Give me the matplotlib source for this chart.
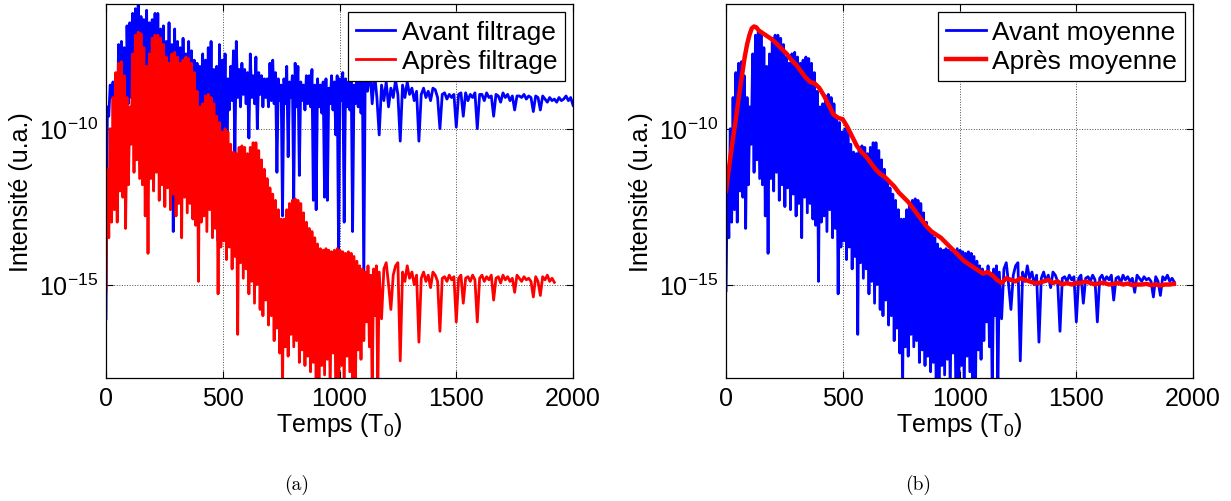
"""
Intensité avant / après filtrage et avant / après moyenne (échelle log).
"""

import numpy as np
import matplotlib
matplotlib.use("Agg")
import matplotlib.pyplot as plt
from matplotlib.ticker import NullLocator

plt.rcParams.update({
    "font.family": "Liberation Sans",
    "mathtext.fontset": "custom",
    "mathtext.rm": "Liberation Sans",
    "mathtext.it": "Liberation Sans:italic",
    "mathtext.bf": "Liberation Sans:bold",
})

# ── Data (log10 of intensity) ─────────────────────────────────────────────────
# filtered signal, dense part: troughs at t = 0, 12, ..., crests at t = 6, 18, ...
t_filt_dense = np.arange(0, 1165, 6)
filt_trough = [
    -15.2, -13.5, -13.0, -12.6, -13.0, -12.0, -12.2, -13.2, -11.8, -10.5,
    -11.4, -11.0, -11.6, -11.8, -12.8, -14.0, -11.6, -12.0, -11.4, -12.3,
    -11.8, -12.5, -11.9, -12.6, -12.1, -12.8, -12.4, -13.5, -12.2, -12.7,
    -12.4, -12.9, -13.1, -14.9, -13.0, -12.8, -13.3, -12.6, -13.5, -13.2,
    -15.3, -13.8, -13.6, -14.2, -13.8, -14.5, -14.1, -16.6, -14.3, -14.8,
    -14.5, -15.3, -14.9, -15.6, -15.0, -15.8, -16.0, -15.5, -16.3, -16.0,
    -16.8, -16.4, -17.2, -18.5, -17.0, -17.3, -16.6, -17.0, -16.8, -17.5,
    -17.1, -17.6, -17.3, -17.8, -17.5, -18.5, -18.5, -17.6, -17.9, -17.4,
    -18.5, -17.2, -18.5, -18.5, -17.6, -18.5, -17.3, -17.8, -18.5, -18.5,
    -17.1, -17.4, -16.8, -16.2, -17.0, -18.5, -16.0, -18.5,
]
filt_crest = [
    -11.3, -10.0, -9.0, -8.2, -7.9, -7.85, -8.3, -9.0, -9.3, -7.6,
    -7.0, -6.9, -6.95, -7.4, -8.0, -7.6, -7.1, -7.0, -7.0, -7.1,
    -7.3, -7.7, -7.9, -7.6, -7.55, -7.7, -7.9, -7.8, -7.7, -7.75,
    -7.9, -8.2, -8.8, -9.3, -9.2, -8.95, -8.9, -9.0, -9.2, -9.6,
    -9.8, -10.1, -10.0, -10.1, -10.5, -10.75, -10.8, -10.6, -10.55, -10.6,
    -10.8, -10.6, -10.45, -10.45, -10.7, -11.0, -11.3, -11.6, -11.9, -12.1,
    -12.3, -12.6, -12.9, -12.9, -12.6, -12.4, -12.3, -12.25, -12.3, -12.4,
    -12.7, -13.0, -13.2, -13.3, -13.5, -13.7, -13.85, -13.9, -13.85, -13.9,
    -13.95, -13.9, -13.85, -13.9, -13.95, -14.0, -13.95, -14.0, -14.1, -14.25,
    -14.4, -14.5, -14.6, -14.4, -14.7, -14.5, -14.4,
]
t_filt_tail = np.arange(1170, 1921, 10)
filt_tail = [
    -14.6, -16.1, -14.5, -14.3, -15.0, -15.8, -14.7, -14.4, -14.3, -17.45,
    -14.6, -14.9, -14.4, -14.8, -14.6, -15.0, -14.7, -16.85, -14.8, -14.6,
    -14.9, -14.7, -15.1, -14.6, -14.7, -14.9, -16.5, -14.8, -14.75, -14.9,
    -14.7, -14.85, -14.75, -16.2, -14.8, -14.7, -15.6, -14.8, -14.75, -14.9,
    -14.7, -14.85, -16.2, -14.8, -14.7, -14.9, -14.75, -14.85, -14.7, -15.5,
    -14.8, -14.75, -14.95, -14.7, -14.85, -14.75, -14.9, -14.8, -15.25, -14.7,
    -14.8, -14.9, -14.75, -14.85, -14.8, -14.9, -15.4, -14.75, -14.9, -15.35,
    -14.75, -14.85, -14.7, -14.9, -14.8, -14.93,
]

# raw signal (before filtering)
t_raw_dense = np.arange(0, 1105, 6)
raw_trough = [
    -16.1, -9.6, -9.0, -9.3, -10.0, -9.5, -10.2, -12.6, -9.2, -9.0,
    -10.0, -10.8, -9.2, -9.4, -9.6, -9.8, -9.3, -10.2, -9.5, -10.0,
    -9.6, -10.3, -9.8, -10.5, -13.3, -11.0, -10.0, -10.4, -9.8, -10.6,
    -10.1, -10.8, -10.2, -11.2, -10.3, -10.9, -10.4, -10.7, -11.5, -10.5,
    -13.6, -10.6, -11.2, -13.6, -9.4, -9.1, -10.9, -9.0, -9.3, -8.9,
    -9.2, -10.3, -9.0, -9.2, -10.0, -8.9, -9.3, -9.0, -9.3, -9.1,
    -9.2, -11.4, -9.1, -12.8, -9.2, -10.9, -9.0, -12.3, -9.3, -11.5,
    -9.1, -9.4, -9.2, -9.3, -12.3, -12.6, -9.3, -9.5, -12.2, -12.3,
    -9.2, -9.4, -10.2, -14.0, -9.1, -13.0, -9.3, -9.4, -13.3, -9.2,
    -9.3, -9.5, -14.9,
]
raw_crest = [
    -9.3, -8.6, -8.5, -8.5, -7.3, -7.2, -7.4, -6.7, -6.6, -6.3,
    -6.15, -6.0, -6.4, -6.5, -6.2, -6.6, -6.5, -6.3, -6.3, -6.8,
    -6.7, -7.2, -6.6, -7.3, -6.8, -7.2, -7.4, -7.1, -7.6, -7.2,
    -7.5, -7.8, -7.9, -8.0, -7.6, -7.8, -7.4, -7.2, -8.1, -8.0,
    -7.3, -7.8, -7.6, -8.4, -8.0, -7.5, -7.2, -8.1, -7.9, -8.1,
    -8.2, -7.6, -8.3, -7.7, -8.2, -8.3, -8.4, -8.4, -7.9, -7.8,
    -8.2, -8.4, -8.6, -8.4, -8.0, -8.5, -8.3, -7.9, -8.0, -8.5,
    -8.6, -8.3, -8.3, -8.1, -8.6, -8.4, -8.6, -8.5, -8.4, -8.7,
    -8.3, -8.5, -8.3, -8.4, -8.2, -8.4, -8.5, -8.3, -8.6, -8.4,
    -8.1, -8.3,
]
t_raw_tail = np.arange(1110, 2001, 10)
raw_tail = [
    -8.3, -8.8, -8.1, -9.2, -8.2, -9.0, -10.2, -8.6, -9.1, -8.5,
    -9.3, -8.7, -9.0, -8.45, -8.9, -10.4, -8.6, -9.0, -8.5, -8.9,
    -8.7, -9.1, -8.8, -10.4, -8.9, -8.7, -9.0, -8.8, -9.1, -8.7,
    -8.75, -9.0, -10.0, -8.9, -8.85, -9.05, -8.9, -9.0, -8.9, -9.95,
    -8.9, -8.85, -9.6, -8.85, -9.1, -8.9, -9.0, -8.85, -10.0, -8.9,
    -8.9, -9.1, -8.85, -9.0, -8.95, -9.6, -8.9, -8.95, -9.15, -8.85,
    -9.0, -8.9, -9.1, -8.95, -9.4, -8.95, -8.95, -9.0, -8.9, -9.05,
    -8.95, -9.0, -9.45, -8.95, -9.0, -9.4, -8.95, -9.05, -9.15, -9.0,
    -9.1, -9.05, -9.15, -9.0, -9.1, -9.05, -8.95, -9.1, -9.0, -9.25,
]

# averaged signal (après moyenne)
t_avg = [0, 10, 20, 30, 40, 50, 60, 70, 80, 90, 100, 110, 120, 130, 140, 150,
         160, 170, 180, 190, 200, 220, 240, 260, 280, 300, 320, 340, 360, 380,
         400, 420, 440, 460, 480, 500, 520, 540, 560, 580, 600, 620, 640, 660,
         680, 700, 720, 740, 760, 780, 800, 820, 840, 860, 880, 900, 920, 940,
         960, 980, 1000, 1020, 1040, 1060, 1080, 1100, 1120, 1140, 1160, 1180,
         1200, 1220, 1240, 1260, 1280, 1300, 1320, 1340, 1360, 1380, 1400, 1420,
         1440, 1460, 1480, 1500, 1520, 1540, 1560, 1580, 1600, 1620, 1640, 1660,
         1680, 1700, 1720, 1740, 1760, 1780, 1800, 1820, 1840, 1860, 1880, 1900,
         1918]
avg = [-12.0, -11.4, -10.85, -10.3, -9.8, -9.25, -8.7, -8.2, -7.7, -7.3,
       -7.0, -6.78, -6.72, -6.75, -6.85, -6.9, -6.95, -7.0, -7.05, -7.1,
       -7.15, -7.3, -7.45, -7.6, -7.8, -7.95, -8.15, -8.35, -8.5, -8.55,
       -8.7, -8.95, -9.25, -9.55, -9.65, -9.7, -9.95, -10.25, -10.55, -10.75,
       -10.9, -11.1, -11.3, -11.45, -11.55, -11.7, -11.85, -12.05, -12.2, -12.35,
       -12.55, -12.75, -12.95, -13.15, -13.3, -13.4, -13.5, -13.65, -13.8, -13.95,
       -14.1, -14.25, -14.35, -14.45, -14.55, -14.65, -14.6, -14.7, -14.85, -14.95,
       -14.8, -14.85, -14.9, -14.8, -14.85, -14.9, -14.95, -14.95, -14.9, -14.85,
       -14.95, -14.9, -15.0, -14.95, -15.0, -14.95, -14.95, -14.9, -14.95, -15.0,
       -14.95, -14.95, -15.0, -14.98, -14.95, -15.0, -14.97, -15.02, -15.0, -15.0,
       -14.98, -15.02, -15.0, -15.03, -15.0, -15.0, -14.98]


def series(t_dense, trough, crest, t_tail, tail):
    y = np.empty(len(t_dense))
    y[0::2] = trough
    y[1::2] = crest
    t = np.concatenate([t_dense, t_tail])
    return t, 10.0 ** np.concatenate([y, tail])


t_f, y_f = series(t_filt_dense, filt_trough, filt_crest, t_filt_tail, filt_tail)
t_r, y_r = series(t_raw_dense, raw_trough, raw_crest, t_raw_tail, raw_tail)
y_avg = 10.0 ** np.array(avg)

# ── Plot ──────────────────────────────────────────────────────────────────────
fig = plt.figure(figsize=(12.31, 5.02), dpi=100)
ax1 = fig.add_axes([0.0861, 0.245, 0.3794, 0.745])
ax2 = fig.add_axes([0.5898, 0.245, 0.3794, 0.745])

ax1.plot(t_r, y_r, color="b", lw=2, label="Avant filtrage")
ax1.plot(t_f, y_f, color="r", lw=2, label="Après filtrage")
ax2.plot(t_f, y_f, color="b", lw=2, label="Avant moyenne")
ax2.plot(t_avg, y_avg, color="r", lw=3.2, label="Après moyenne")

for ax in (ax1, ax2):
    ax.set_yscale("log")
    ax.set_xlim(0, 2000)
    ax.set_ylim(1e-18, 1e-6)
    ax.set_xticks([0, 500, 1000, 1500, 2000])
    ax.set_yticks([1e-15, 1e-10])
    ax.yaxis.set_minor_locator(NullLocator())
    ax.tick_params(direction="in", top=True, right=True, length=5,
                   width=0.8, labelsize=18, pad=6)
    ax.grid(True, ls=":", color="k", lw=0.7, alpha=0.7)
    for s in ax.spines.values():
        s.set_linewidth(0.9)
    ax.set_xlabel("Temps (T$_{\\mathregular{0}}$)", fontsize=18, labelpad=0)
    ax.set_ylabel("Intensité (u.a.)", fontsize=18, labelpad=4)
    leg = ax.legend(loc="upper right", fontsize=19, fancybox=False,
                    edgecolor="k", framealpha=1, handlelength=1.5,
                    handletextpad=0.25, borderpad=0.3, labelspacing=0.2,
                    borderaxespad=0.3)
    leg.get_frame().set_linewidth(0.9)

fig.text(297 / 1231, 1 - 485 / 502, "(a)", family="cmr10", fontsize=14,
         ha="center", va="center")
fig.text(918 / 1231, 1 - 485 / 502, "(b)", family="cmr10", fontsize=14,
         ha="center", va="center")

fig.savefig("out.png", dpi=100)
